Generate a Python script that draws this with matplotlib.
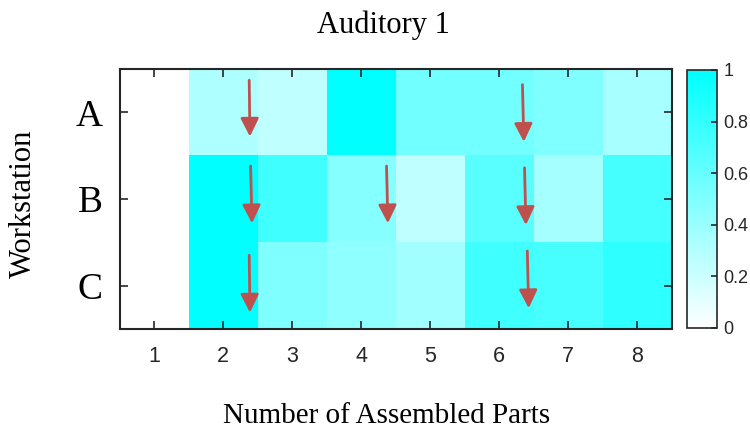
import matplotlib
matplotlib.use("Agg")
import matplotlib.pyplot as plt
import numpy as np
from matplotlib.colors import LinearSegmentedColormap

parts = [1, 2, 3, 4, 5, 6, 7, 8]
stations = ["A", "B", "C"]
row_A = [0.00, 0.32, 0.25, 1.00, 0.55, 0.55, 0.50, 0.34]
row_B = [0.00, 1.00, 0.75, 0.48, 0.25, 0.65, 0.35, 0.73]
row_C = [0.00, 1.00, 0.50, 0.44, 0.37, 0.75, 0.72, 0.82]
cbar_ticks = [0, 0.2, 0.4, 0.6, 0.8, 1]

# arrows (data coordinates: x = part, y = station row 1..3 from top)
arrow_x0 = [2.38, 6.34, 2.40, 4.37, 6.37, 2.38, 6.41]
arrow_x1 = [2.39, 6.36, 2.42, 4.39, 6.39, 2.39, 6.43]
arrow_y0 = [0.63, 0.68, 1.62, 1.62, 1.64, 2.65, 2.60]
arrow_y1 = [1.28, 1.34, 2.28, 2.28, 2.30, 3.31, 3.26]

serif = ["Liberation Serif", "DejaVu Serif"]
sans = ["Liberation Sans", "DejaVu Sans"]

data = np.array([row_A, row_B, row_C])
cmap = LinearSegmentedColormap.from_list("wc", ["#ffffff", "#00ffff"])

fig = plt.figure(figsize=(7.5, 4.33), dpi=100)
ax = fig.add_axes([119.5 / 750, 1 - 329 / 433, 552 / 750, 260 / 433])
im = ax.imshow(data, cmap=cmap, vmin=0, vmax=1, aspect="auto",
               extent=[0.5, 8.5, 3.5, 0.5], interpolation="nearest")
ax.set_xlim(0.5, 8.5)
ax.set_ylim(3.5, 0.5)

edge = "#262626"
for s in ax.spines.values():
    s.set_color(edge)
    s.set_linewidth(1.5)

ax.set_xticks(parts)
ax.set_xticklabels([str(p) for p in parts], family=sans, fontsize=15.5, color="#262626")
ax.set_yticks([1, 2, 3])
ax.set_yticklabels(stations, family=serif, fontsize=27)
ax.tick_params(axis="x", direction="in", length=6, width=1.2, color=edge,
               top=True, bottom=True, pad=12)
ax.tick_params(axis="y", direction="in", length=6, width=1.2, color=edge,
               left=True, right=True, pad=12)

for x0, x1, y0, y1 in zip(arrow_x0, arrow_x1, arrow_y0, arrow_y1):
    ax.annotate("", xy=(x1, y1), xytext=(x0, y0),
                arrowprops=dict(arrowstyle="-|>,head_width=0.55,head_length=1.1",
                                lw=2.0, color="#C0504D", shrinkA=0, shrinkB=0))

cax = fig.add_axes([686.7 / 750, 1 - 328 / 433, 30 / 750, 258 / 433])
cb = fig.colorbar(im, cax=cax, ticks=cbar_ticks)
cb.outline.set_edgecolor(edge)
cb.outline.set_linewidth(1.2)
cax.tick_params(direction="in", length=4, width=1.2, color=edge, pad=5)
cax.set_yticklabels([("%g" % t) for t in cbar_ticks], family=sans,
                    fontsize=13, color="#262626")

fig.text(0.511, 1 - 33 / 433, "Auditory 1", family=serif, fontsize=22,
         ha="center", va="baseline")
fig.text(0.515, 1 - 423 / 433, "Number of Assembled Parts", family=serif,
         fontsize=21, ha="center", va="baseline")
fig.text(0.031, 1 - 203.5 / 433, "Workstation", family=serif, fontsize=22,
         ha="center", va="center", rotation=90)

fig.savefig("out.png", dpi=100)
